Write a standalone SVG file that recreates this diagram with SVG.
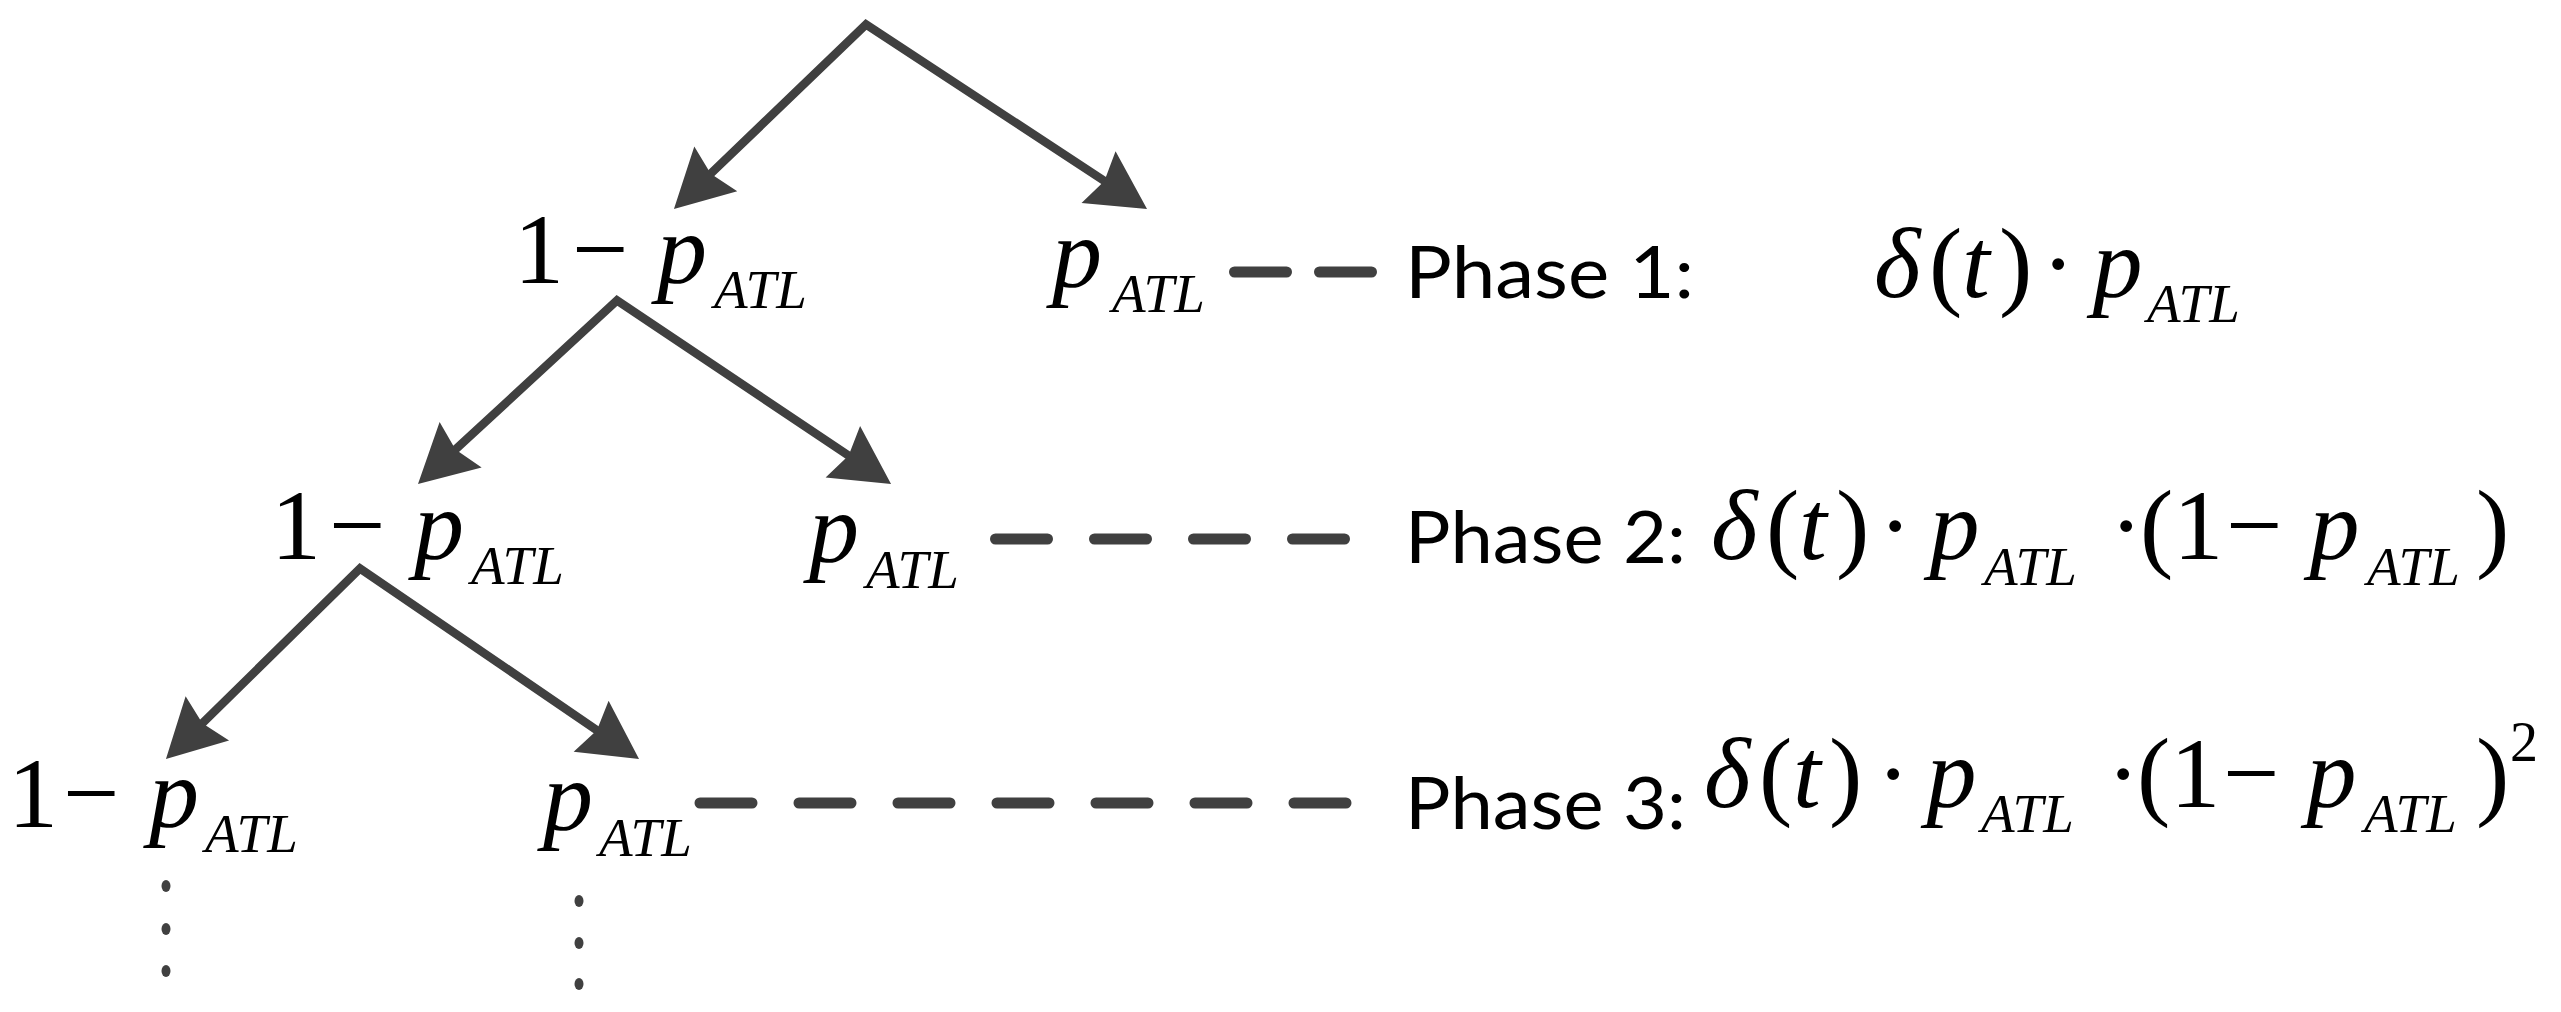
<svg xmlns="http://www.w3.org/2000/svg" width="2561" height="1012" viewBox="0 0 2561 1012">
<style>
.m{font-family:'Liberation Serif','Times New Roman',serif;font-size:100px;fill:#000}
.i{font-style:italic}
.sub{font-size:55px;font-style:italic}
.sup{font-size:56px}
.ph{font-family:Lato,'Noto Sans',sans-serif;font-size:71px;fill:#000}
.conn{fill:none;stroke:#404040;stroke-width:8.5;stroke-linejoin:miter;stroke-miterlimit:10}
.dash{fill:none;stroke:#404040;stroke-width:11;stroke-linecap:round}
.dot{fill:#404040}
</style>
<defs>
<marker id="ah" markerUnits="userSpaceOnUse" orient="auto-start-reverse" refX="0" refY="0" markerWidth="10" markerHeight="10" overflow="visible">
<path d="M40,0 L-18,-31 L-11,0 L-18,31 Z" fill="#404040"/>
</marker>
</defs>
<rect width="2561" height="1012" fill="#fff"/>
<g id="connectors">
<path class="conn" d="M702.8,181.3 L866,24.5 L1113.6,187" marker-start="url(#ah)" marker-end="url(#ah)"/>
<path class="conn" d="M447.4,456.9 L617,300.5 L857.8,461.7" marker-start="url(#ah)" marker-end="url(#ah)"/>
<path class="conn" d="M194.5,731 L360,568.5 L606,736.4" marker-start="url(#ah)" marker-end="url(#ah)"/>
<path class="dash" d="M1234.5,272 H1371.5" stroke-dasharray="52 33"/>
<path class="dash" d="M995.5,539 H1344.5" stroke-dasharray="52 47"/>
<path class="dash" d="M700,803 H1346" stroke-dasharray="52 47"/>
</g>
<g id="node-l1-fail">
<text class="m"><tspan x="514" y="283">1</tspan><tspan x="572">−</tspan><tspan class="i" x="657">p</tspan><tspan class="sub" x="714" y="308">ATL</tspan></text>
</g>
<g id="node-l1-success">
<text class="m"><tspan class="i" x="1052" y="287">p</tspan><tspan class="sub" x="1112" y="312">ATL</tspan></text>
</g>
<g id="node-l2-fail">
<text class="m"><tspan x="271" y="559">1</tspan><tspan x="329">−</tspan><tspan class="i" x="414">p</tspan><tspan class="sub" x="471" y="584">ATL</tspan></text>
</g>
<g id="node-l2-success">
<text class="m"><tspan class="i" x="809" y="562">p</tspan><tspan class="sub" x="866" y="588">ATL</tspan></text>
</g>
<g id="node-l3-fail">
<text class="m"><tspan x="8" y="827">1</tspan><tspan x="63">−</tspan><tspan class="i" x="149">p</tspan><tspan class="sub" x="205" y="852">ATL</tspan></text>
<ellipse class="dot" cx="166" cy="886" rx="4.5" ry="6"/>
<ellipse class="dot" cx="166" cy="929" rx="4.5" ry="6"/>
<ellipse class="dot" cx="166" cy="971" rx="4.5" ry="6"/>
</g>
<g id="node-l3-success">
<text class="m"><tspan class="i" x="543" y="830">p</tspan><tspan class="sub" x="599" y="856">ATL</tspan></text>
<ellipse class="dot" cx="579" cy="901" rx="4.5" ry="6"/>
<ellipse class="dot" cx="579" cy="943" rx="4.5" ry="6"/>
<ellipse class="dot" cx="579" cy="984" rx="4.5" ry="6"/>
</g>
<g id="phase1">
<text class="ph" x="1405" y="298" textLength="289" lengthAdjust="spacingAndGlyphs">Phase 1:</text>
<text class="m"><tspan class="i" x="1874" y="297">δ</tspan><tspan x="1929">(</tspan><tspan class="i" x="1962">t</tspan><tspan x="1999">)</tspan><tspan x="2041.5">·</tspan><tspan class="i" x="2092.5">p</tspan><tspan class="sub" x="2147" y="322">ATL</tspan></text>
</g>
<g id="phase2">
<text class="ph" x="1405" y="563" textLength="281" lengthAdjust="spacingAndGlyphs">Phase 2:</text>
<text class="m"><tspan class="i" x="1711" y="559">δ</tspan><tspan x="1766">(</tspan><tspan class="i" x="1799">t</tspan><tspan x="1836">)</tspan><tspan x="1878.5">·</tspan><tspan class="i" x="1929.5">p</tspan><tspan class="sub" x="1984" y="585">ATL</tspan><tspan x="2109.5" y="559">·</tspan><tspan x="2140">(1</tspan><tspan x="2226">−</tspan><tspan class="i" x="2309.5">p</tspan><tspan class="sub" x="2367" y="585">ATL</tspan><tspan x="2476" y="559">)</tspan></text>
</g>
<g id="phase3">
<text class="ph" x="1405" y="829" textLength="281" lengthAdjust="spacingAndGlyphs">Phase 3:</text>
<text class="m"><tspan class="i" x="1704" y="807">δ</tspan><tspan x="1759">(</tspan><tspan class="i" x="1793">t</tspan><tspan x="1829">)</tspan><tspan x="1876.5">·</tspan><tspan class="i" x="1926.5">p</tspan><tspan class="sub" x="1981" y="832">ATL</tspan><tspan x="2106.5" y="807">·</tspan><tspan x="2137">(1</tspan><tspan x="2223">−</tspan><tspan class="i" x="2306.5">p</tspan><tspan class="sub" x="2364" y="832">ATL</tspan><tspan x="2476" y="807">)</tspan><tspan class="sup" x="2510" y="761">2</tspan></text>
</g>
</svg>
